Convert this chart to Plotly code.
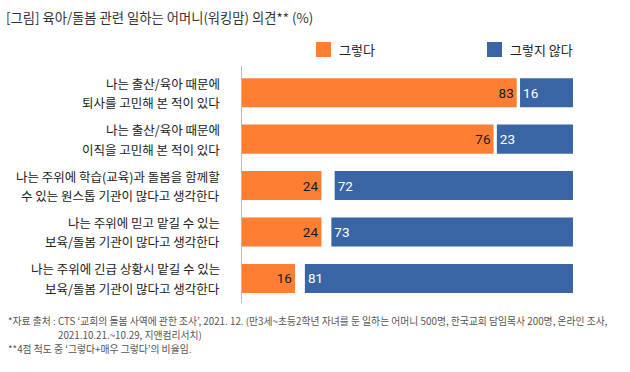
import plotly.graph_objects as go

# ---- data ----
label_line1 = [
    "나는 출산/육아 때문에",
    "나는 출산/육아 때문에",
    "나는 주위에 학습(교육)과 돌봄을 함께할",
    "나는 주위에 믿고 맡길 수 있는",
    "나는 주위에 긴급 상황시 맡길 수 있는",
]
label_line2 = [
    "퇴사를 고민해 본 적이 있다",
    "이직을 고민해 본 적이 있다",
    "수 있는 원스톱 기관이 많다고 생각한다",
    "보육/돌봄 기관이 많다고 생각한다",
    "보육/돌봄 기관이 많다고 생각한다",
]
yes_values = [83, 76, 24, 24, 16]
no_values = [16, 23, 72, 73, 81]
series_names = ["그렇다", "그렇지 않다"]

title_text = "[그림] 육아/돌봄 관련 일하는 어머니(워킹맘) 의견** (%)"
footnotes = [
    "*자료 출처 : CTS ‘교회의 돌봄 사역에 관한 조사’, 2021. 12. (만3세~초등2학년 자녀를 둔 일하는 어머니 500명, 한국교회 담임목사 200명, 온라인 조사,",
    "2021.10.21.~10.29, 지앤컴리서치)",
    "**4점 척도 중 ‘그렇다+매우 그렇다’의 비율임.",
]

# ---- style ----
W, H = 630, 372
ML, MR, MT, MB = 242, 57, 66, 69
ORANGE = "#FE7F33"
BLUE = "#3A65A4"
KFONT = "Noto Sans CJK KR"
cats = list(range(len(yes_values)))


def px_x(x):
    return (x - ML) / (W - ML - MR)


def px_y(y):
    return 1 - (y - MT) / (H - MT - MB)


fig = go.Figure()
fig.add_trace(go.Bar(
    y=cats, x=yes_values, orientation="h", name=series_names[0],
    marker=dict(color=ORANGE, line=dict(width=0)), width=0.625,
    text=[str(v) for v in yes_values], textposition="inside",
    insidetextanchor="end", textangle=0,
    textfont=dict(family="Roboto", size=13.5, color="#1a1a1a"),
    showlegend=False, hoverinfo="skip",
))
fig.add_trace(go.Bar(
    y=cats, x=no_values, base=[100 - v for v in no_values], orientation="h",
    name=series_names[1],
    marker=dict(color=BLUE, line=dict(width=0)), width=0.625,
    text=[str(v) for v in no_values], textposition="inside",
    insidetextanchor="start", textangle=0,
    textfont=dict(family="Roboto", size=13.5, color="#ffffff"),
    showlegend=False, hoverinfo="skip",
))

annotations = []
for i in cats:
    for txt, shift in ((label_line1[i], 9.5), (label_line2[i], -10)):
        annotations.append(dict(
            xref="paper", yref="y", x=0, y=i, xshift=-20, yshift=shift,
            text=txt, showarrow=False, xanchor="right", yanchor="middle",
            font=dict(family=KFONT, size=12.5, color="#222222"),
        ))

# title
annotations.append(dict(
    xref="paper", yref="paper", x=px_x(4), y=px_y(17), text=title_text,
    showarrow=False, xanchor="left", yanchor="middle",
    font=dict(family=KFONT, size=13.3, color="#333333"),
))

# legend
shapes = []
legend_items = [(316, ORANGE, series_names[0]), (487, BLUE, series_names[1])]
for x0, col, name in legend_items:
    shapes.append(dict(type="rect", xref="paper", yref="paper",
                       x0=px_x(x0), x1=px_x(x0 + 15), y0=px_y(57), y1=px_y(42),
                       fillcolor=col, line=dict(width=0)))
    annotations.append(dict(
        xref="paper", yref="paper", x=px_x(x0 + 21), y=px_y(49.5), text=name,
        showarrow=False, xanchor="left", yanchor="middle",
        font=dict(family=KFONT, size=13, color="#222222"),
    ))

# footnotes
for txt, x0, yc in ((footnotes[0], 6, 320.5), (footnotes[1], 56, 335), (footnotes[2], 6, 349)):
    annotations.append(dict(
        xref="paper", yref="paper", x=px_x(x0), y=px_y(yc), text=txt,
        showarrow=False, xanchor="left", yanchor="middle",
        font=dict(family=KFONT, size=9.8, color="#555555"),
    ))

fig.update_layout(
    width=W, height=H,
    margin=dict(l=ML, r=MR, t=MT, b=MB),
    paper_bgcolor="white", plot_bgcolor="white",
    barmode="overlay",
    xaxis=dict(range=[0, 100], visible=False, fixedrange=True),
    yaxis=dict(range=[4.53, -0.575], showticklabels=False, showgrid=False,
               zeroline=False, showline=True, linecolor="#BBBBBB", linewidth=1,
               ticks="", fixedrange=True),
    annotations=annotations, shapes=shapes,
    font=dict(family=KFONT),
)

fig.write_html(
    "out.html",
    config={"displayModeBar": False},
    post_script="document.body.style.margin='0';document.body.style.padding='0';",
)
